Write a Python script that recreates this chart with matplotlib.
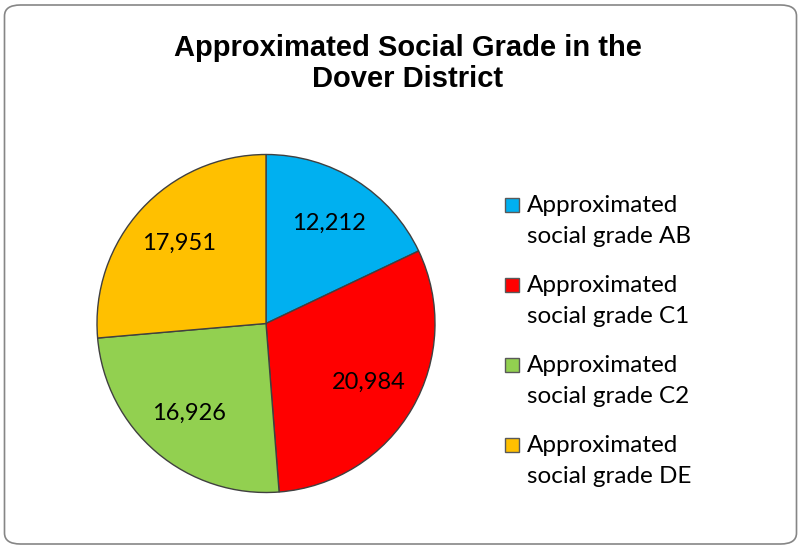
import matplotlib.pyplot as plt
from matplotlib.patches import FancyBboxPatch, Rectangle

# Data: approximated social grade counts, Dover district
grades = ['AB', 'C1', 'C2', 'DE']
counts = [12212, 20984, 16926, 17951]
colors = ['#00B0F0', '#FF0000', '#92D050', '#FFC000']
labels = ['Approximated\nsocial grade ' + g for g in grades]

W, H = 800, 547
fig = plt.figure(figsize=(W / 100, H / 100), dpi=100)

# rounded chart-area border
fig.patches.append(FancyBboxPatch((4.5 / W, 1 - 544 / H), 792 / W, 539 / H,
                                  boxstyle='round,pad=0,rounding_size=0.02',
                                  transform=fig.transFigure, facecolor='none',
                                  edgecolor='#868686', linewidth=1.2, zorder=-1))

# title (va='baseline' on multi-line text anchors the last line)
fig.text(408 / W, 1 - 87 / H, 'Approximated Social Grade in the\nDover District',
         ha='center', va='baseline', fontsize=21, fontweight='bold',
         family='Liberation Sans', linespacing=1.15)

# pie axes: center (266, 323), radius 169 px
cx, cy, r = 266, 323.5, 169
ax = fig.add_axes([(cx - r) / W, 1 - (cy + r) / H, 2 * r / W, 2 * r / H])
total = sum(counts)
wedges, _, autotexts = ax.pie(counts, colors=colors, startangle=90, counterclock=False,
                              autopct=lambda p: f'{round(p * total / 100):,}',
                              pctdistance=0.70,
                              wedgeprops=dict(edgecolor='#404040', linewidth=1.0),
                              textprops=dict(fontsize=17, family='Lato'))
ax.set_xlim(-1, 1)
ax.set_ylim(-1, 1)

# legend drawn by hand to match the two-line layout
for i, (lab, col) in enumerate(zip(labels, colors)):
    y0 = 212 + 80 * i
    fig.patches.append(Rectangle((505 / W, 1 - y0 / H), 14 / W, 14 / H,
                                 transform=fig.transFigure, facecolor=col,
                                 edgecolor='#595959', linewidth=1.0))
    for j, line in enumerate(lab.split('\n')):
        fig.text(527 / W, 1 - (y0 + 31 * j) / H, line, ha='left', va='baseline',
                 fontsize=17.5, family='Lato')

fig.savefig('out.png', dpi=100)
